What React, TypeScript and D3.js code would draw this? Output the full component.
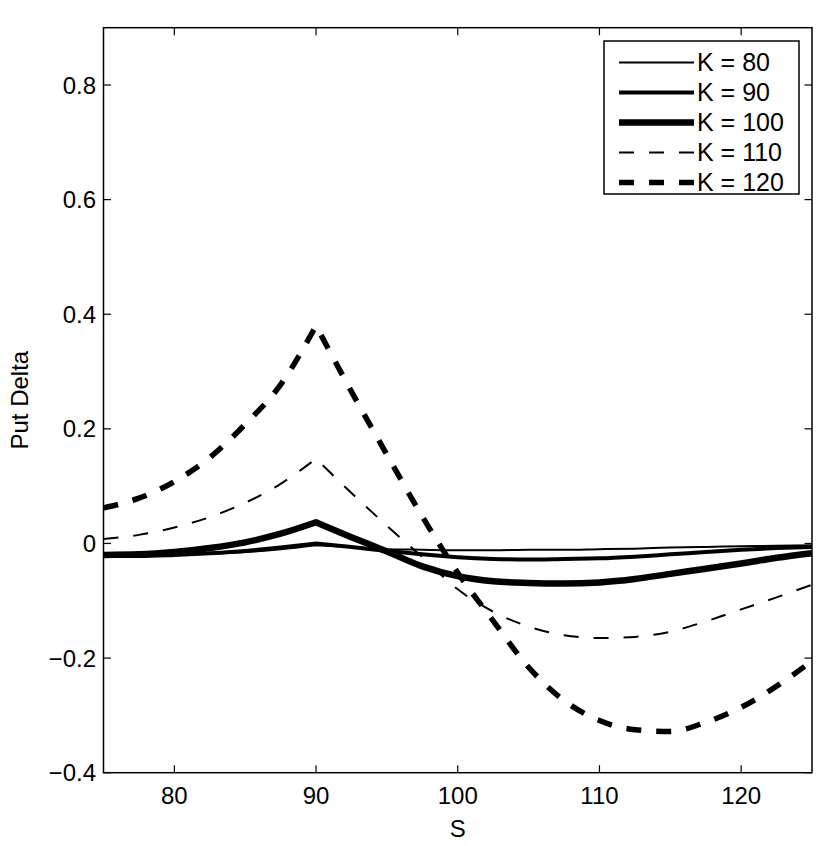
import { useEffect, useRef } from 'react';
import * as d3 from 'd3';

// Stock price grid (S), kink at S = 90
const sValues = [75, 77.5, 80, 82.5, 85, 87.5, 90, 92.5, 95, 97.5, 100, 102.5, 105, 107.5, 110, 112.5, 115, 117.5, 120, 122.5, 125];

const k80 = [-0.021, -0.021, -0.020, -0.018, -0.015, -0.010, -0.003, -0.006, -0.010, -0.011, -0.012, -0.012, -0.011, -0.011, -0.010, -0.009, -0.007, -0.006, -0.005, -0.004, -0.003];
const k90 = [-0.022, -0.022, -0.020, -0.017, -0.013, -0.007, 0.000, -0.006, -0.013, -0.019, -0.024, -0.027, -0.028, -0.027, -0.026, -0.023, -0.019, -0.015, -0.011, -0.008, -0.006];
const k100 = [-0.020, -0.019, -0.015, -0.008, 0.002, 0.017, 0.037, 0.011, -0.014, -0.040, -0.057, -0.066, -0.069, -0.070, -0.068, -0.062, -0.053, -0.044, -0.035, -0.025, -0.017];
const k110 = [0.008, 0.015, 0.028, 0.046, 0.071, 0.104, 0.148, 0.088, 0.031, -0.024, -0.080, -0.119, -0.145, -0.160, -0.165, -0.163, -0.154, -0.136, -0.115, -0.094, -0.072];
const k120 = [0.062, 0.079, 0.108, 0.150, 0.208, 0.277, 0.380, 0.265, 0.155, 0.047, -0.051, -0.135, -0.216, -0.274, -0.309, -0.325, -0.328, -0.312, -0.286, -0.249, -0.205];

const seriesLabels = ['K = 80', 'K = 90', 'K = 100', 'K = 110', 'K = 120'];
const seriesValues = [k80, k90, k100, k110, k120];
const seriesWidths = [2, 4, 6.5, 2, 5.5];
const seriesDashes = ['none', 'none', 'none', '15,15', '15,15'];

const xTicks = [80, 90, 100, 110, 120];
const yTicks = [-0.4, -0.2, 0, 0.2, 0.4, 0.6, 0.8];
const yTickLabels = ['\u22120.4', '\u22120.2', '0', '0.2', '0.4', '0.6', '0.8'];

const kinkS = 90;

const App = () => {
  const svgRef = useRef<SVGSVGElement>(null);
  const width = 830;
  const height = 846;

  useEffect(() => {
    if (!svgRef.current) return;
    const svg = d3.select(svgRef.current);
    svg.selectAll('*').remove();

    const left = 103.5, right = 812, top = 27.7, bottom = 772.7;
    const font = '"Liberation Sans", Arial, Helvetica, sans-serif';

    const x = d3.scaleLinear().domain([75, 125]).range([left, right]);
    const y = d3.scaleLinear().domain([-0.4, 0.9]).range([bottom, top]);

    svg.append('rect')
      .attr('width', width)
      .attr('height', height)
      .attr('fill', '#fff');

    // Curves: smooth on each side of the kink at S = 90
    const line = d3.line<[number, number]>()
      .x(d => x(d[0]))
      .y(d => y(d[1]))
      .curve(d3.curveMonotoneX);

    seriesValues.forEach((vals, i) => {
      const pts: [number, number][] = sValues.map((s, j) => [s, vals[j]]);
      const a = line(pts.filter(p => p[0] <= kinkS)) || '';
      const b = (line(pts.filter(p => p[0] >= kinkS)) || '').replace(/^M/, 'L');
      svg.append('path')
        .attr('d', a + b)
        .attr('fill', 'none')
        .attr('stroke', '#000')
        .attr('stroke-width', seriesWidths[i])
        .attr('stroke-linejoin', 'round')
        .attr('stroke-dasharray', seriesDashes[i]);
    });

    // Axes box
    svg.append('rect')
      .attr('x', left)
      .attr('y', top)
      .attr('width', right - left)
      .attr('height', bottom - top)
      .attr('fill', 'none')
      .attr('stroke', '#000')
      .attr('stroke-width', 1.5);

    const tickLen = 7.5;
    const ticks = svg.append('g').attr('stroke', '#000').attr('stroke-width', 1.2);
    xTicks.forEach(t => {
      ticks.append('line').attr('x1', x(t)).attr('x2', x(t)).attr('y1', bottom).attr('y2', bottom - tickLen);
      ticks.append('line').attr('x1', x(t)).attr('x2', x(t)).attr('y1', top).attr('y2', top + tickLen);
    });
    yTicks.forEach(t => {
      ticks.append('line').attr('x1', left).attr('x2', left + tickLen).attr('y1', y(t)).attr('y2', y(t));
      ticks.append('line').attr('x1', right).attr('x2', right - tickLen).attr('y1', y(t)).attr('y2', y(t));
    });

    // Tick labels
    svg.append('g')
      .selectAll('text')
      .data(xTicks)
      .join('text')
      .attr('x', d => x(d))
      .attr('y', 804)
      .attr('text-anchor', 'middle')
      .style('font-family', font)
      .style('font-size', '24px')
      .text(d => String(d));

    svg.append('g')
      .selectAll('text')
      .data(yTicks)
      .join('text')
      .attr('x', 96)
      .attr('y', d => y(d) + 8.5)
      .attr('text-anchor', 'end')
      .style('font-family', font)
      .style('font-size', '24px')
      .text((_, i) => yTickLabels[i]);

    // Axis labels
    svg.append('text')
      .attr('x', (left + right) / 2)
      .attr('y', 837)
      .attr('text-anchor', 'middle')
      .style('font-family', font)
      .style('font-size', '24px')
      .text('S');

    svg.append('text')
      .attr('transform', `translate(28,${(top + bottom) / 2}) rotate(-90)`)
      .attr('text-anchor', 'middle')
      .style('font-family', font)
      .style('font-size', '24px')
      .text('Put Delta');

    // Legend
    const lg = svg.append('g');
    lg.append('rect')
      .attr('x', 604)
      .attr('y', 41)
      .attr('width', 195)
      .attr('height', 153)
      .attr('fill', '#fff')
      .attr('stroke', '#000')
      .attr('stroke-width', 1.5);

    seriesLabels.forEach((label, i) => {
      const ry = 62.5 + i * 30;
      lg.append('line')
        .attr('x1', 619)
        .attr('x2', 694)
        .attr('y1', ry)
        .attr('y2', ry)
        .attr('stroke', '#000')
        .attr('stroke-width', seriesWidths[i])
        .attr('stroke-dasharray', seriesDashes[i]);
      lg.append('text')
        .attr('x', 697)
        .attr('y', ry + 8.5)
        .style('font-family', font)
        .style('font-size', '25px')
        .text(label);
    });
  }, []);

  return (
    <svg
      ref={svgRef}
      width={width}
      height={height}
      style={{ position: 'absolute', left: 0, top: 0, display: 'block' }}
    />
  );
};

export default App;
